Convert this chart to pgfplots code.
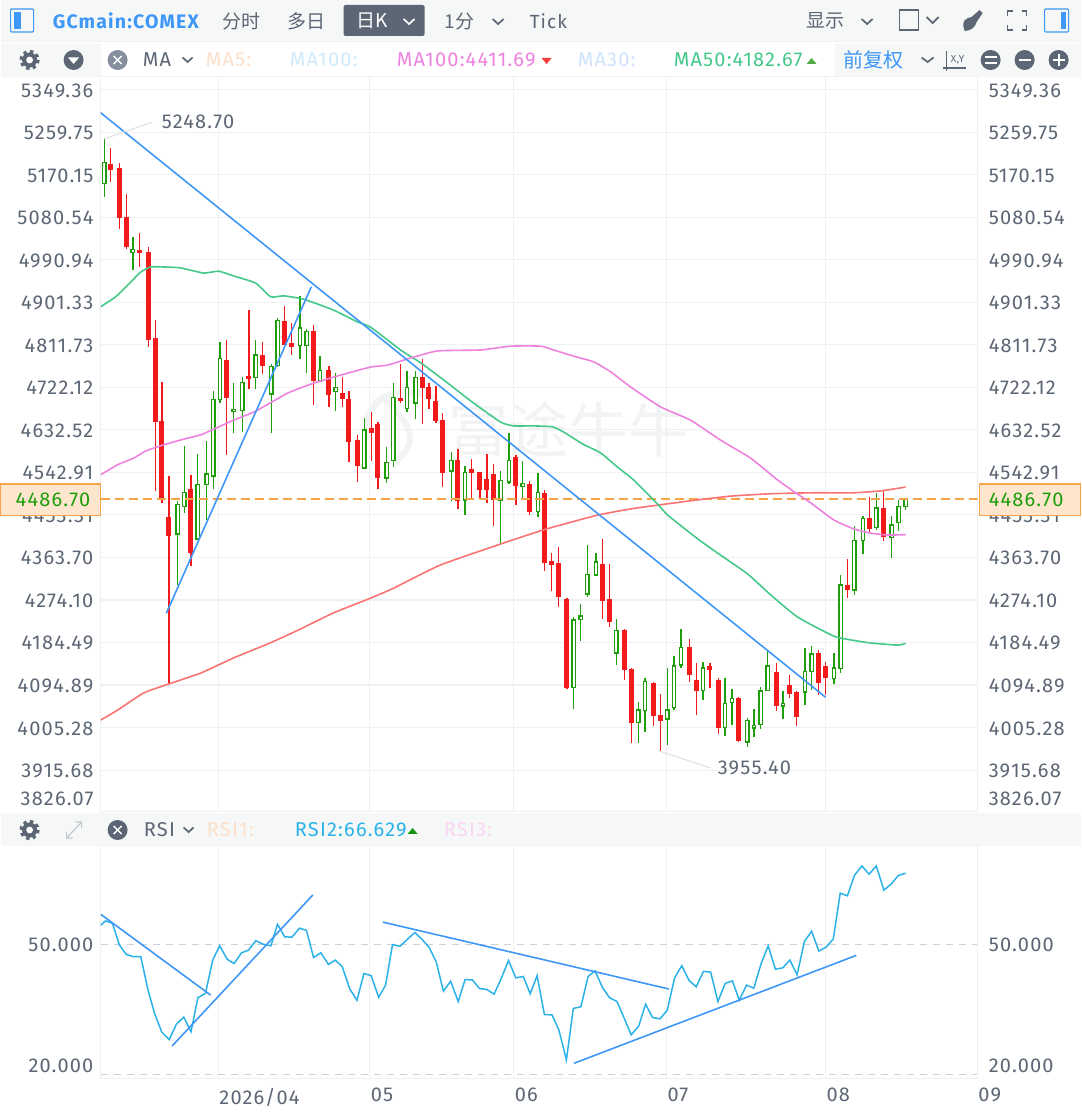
\documentclass[border=0pt]{standalone}
\usepackage{fontspec}
\usepackage{pgfplots}
\pgfplotsset{compat=1.18}
\setmainfont[LetterSpace=6]{Fira Sans}
\newfontfamily\cjk{Noto Sans CJK SC}
\definecolor{cgreen}{HTML}{1F9E0C}
\definecolor{cred}{HTML}{F21A1A}
\definecolor{gridc}{HTML}{EEF0F2}
\definecolor{txt}{HTML}{5C6675}
\definecolor{barbg}{HTML}{F6F8F8}
\definecolor{tl}{HTML}{3F97F7}
\definecolor{maG}{HTML}{45C98A}
\definecolor{maP}{HTML}{EE82DF}
\definecolor{maR}{HTML}{FB7373}
\definecolor{rsi}{HTML}{2BB2E8}
\definecolor{dashg}{HTML}{CDD1DA}
\definecolor{wm}{HTML}{F2F3F4}
\definecolor{lo}{HTML}{FDDFC9}
\definecolor{lb}{HTML}{CFEAFC}
\definecolor{lc}{HTML}{CFE2FD}
\definecolor{lp}{HTML}{F8D5F2}
\definecolor{boxc}{HTML}{F5A447}
\definecolor{boxf}{HTML}{FDE6CD}
\definecolor{xc}{HTML}{858F9D}
\definecolor{lead}{HTML}{DDE0E3}
\definecolor{dn}{HTML}{F53C3C}
\definecolor{upm}{HTML}{50AA46}
\definecolor{upr}{HTML}{149614}
\definecolor{exi}{HTML}{C3C8D0}
% one candle: x, low, body bottom, body top, high
\newcommand{\U}[5]{%
  \pgfmathsetmacro\xa{#1-1.7}\pgfmathsetmacro\xb{#1+1.7}%
  \addplot[draw=cgreen,line width=1.3pt] coordinates {(#1,#2)(#1,#5)};
  \addplot[draw=cgreen,fill=white,line width=1.4pt] coordinates {(\xa,#3)(\xb,#3)(\xb,#4)(\xa,#4)} -- cycle;
}
\newcommand{\D}[5]{%
  \pgfmathsetmacro\xa{#1-1.95}\pgfmathsetmacro\xb{#1+1.95}%
  \addplot[draw=cred,line width=1.2pt] coordinates {(#1,#2)(#1,#5)};
  \addplot[draw=cred,fill=cred,line width=1.1pt] coordinates {(\xa,#3)(\xb,#3)(\xb,#4)(\xa,#4)} -- cycle;
}
\newcommand{\T}[6]{\node[anchor=#1,text=#2,inner sep=0pt,font=\fontsize{#3}{#3}\selectfont] at (#4,#5) {#6};}
\newcommand{\Gear}[2]{%
  \draw[txt,line width=3.2pt,dash pattern=on 3.3pt off 3.38pt] (#1,#2) circle (8.5);
  \fill[txt] (#1,#2) circle (7.6);
  \fill[white] (#1,#2) circle (3.4);
}
\pgfplotsset{
  price/.style={scale only axis,width=877pt,height=735pt,at={(100pt,305pt)},anchor=south west,
    xmin=100,xmax=977,ymin=3827.28,ymax=5376.29,
    xtick={217.6,369,513,665.7,824.8},xticklabels={},
    ytick={5349.36,5259.75,5170.15,5080.54,4990.94,4901.33,4811.73,4722.12,4632.52,4542.91,4453.31,4363.70,4274.10,4184.49,4094.89,4005.28,3915.68},
    yticklabels={5349.36,5259.75,5170.15,5080.54,4990.94,4901.33,4811.73,4722.12,4632.52,4542.91,4453.31,4363.70,4274.10,4184.49,4094.89,4005.28,3915.68},
    tick style={draw=none},
    tick label style={font=\fontsize{20}{20}\selectfont,text=txt,inner sep=0pt},
    grid=both,grid style={draw=gridc,line width=1.1pt},
    axis line style={draw=gridc,line width=1pt},
    clip=true},
  rsibox/.style={scale only axis,width=877pt,height=233pt,at={(100pt,38pt)},anchor=south west,
    xmin=100,xmax=977,ymin=18.96,ymax=72.93,
    ytick={20,50},yticklabels={,50.000},
    tick style={draw=none},
    tick label style={font=\fontsize{20}{20}\selectfont,text=txt,inner sep=0pt},
    axis line style={draw=gridc,line width=1pt}}
}
\begin{document}
\begin{tikzpicture}
\begin{scope}[x=1pt,y=-1pt,shift={(0pt,1117pt)}]
  \fill[white] (0,0) rectangle (1080,1117);
  \fill[barbg] (0,0) rectangle (1080,42);
  \draw[gridc,line width=1pt] (0,42) -- (1080,42);
  \fill[barbg] (0,43) rectangle (100,77);
  \fill[barbg] (834,43) rectangle (1080,77);
  \fill[barbg] (0,813) rectangle (1080,846);
  \node[text=wm,inner sep=0pt,anchor=center,font=\cjk\fontsize{60}{60}\selectfont] at (568,429) {富途牛牛};
  \draw[wm,line width=7pt] (437,398) .. controls (395,385) and (360,395) .. (368,440);
  \draw[wm,line width=6pt] (385,400) .. controls (410,425) and (420,440) .. (395,462);
\end{scope}

\begin{axis}[price,yticklabel style={xshift=-7pt,yshift=-0.8pt}]
  \U{103.7}{5124}{5152}{5196}{5248.7}
  \D{110.3}{5156}{5182}{5191}{5226}
  \D{119}{5056}{5081}{5184}{5194}
  \D{125.7}{5013}{5020}{5080}{5129}
  \U{132.3}{4970}{5007}{5013}{5040}
  \D{139.3}{4976}{5006}{5011}{5047}
  \D{147.7}{4808}{4824}{5007}{5019}
  \D{154.7}{4504}{4651}{4825}{4864}
  \D{161.3}{4479}{4488}{4650}{4734}
  \D{168.3}{4098.6}{4411}{4448}{4535}
  \U{177}{4306}{4413}{4475}{4483}
  \U{183.7}{4457}{4471}{4500}{4599}
  \D{190.3}{4346}{4375}{4506}{4538}
  \U{197}{4401}{4403}{4518}{4581}
  \U{206}{4443}{4518}{4540}{4610}
  \U{212.7}{4507}{4535}{4697}{4715}
  \U{219.3}{4690}{4697}{4783}{4817}
  \D{226}{4580}{4701}{4778}{4822}
  \U{233}{4626}{4671}{4676}{4732}
  \U{241.7}{4629}{4674}{4733}{4743}
  \D{248.3}{4718}{4741}{4746}{4886}
  \U{255}{4718}{4743}{4790}{4822}
  \D{261.7}{4750}{4769}{4789}{4818}
  \U{270.7}{4625}{4708}{4766}{4771}
  \U{277}{4766}{4768}{4863}{4868}
  \D{283.7}{4812}{4813}{4861}{4894}
  \D{290.7}{4790}{4809}{4815}{4857}
  \U{299.3}{4783}{4810}{4847}{4915}
  \U{306}{4752}{4810}{4840}{4846}
  \D{312.7}{4684}{4736}{4840}{4854}
  \U{319.3}{4734}{4736}{4758}{4789}
  \D{328.3}{4680}{4708}{4757}{4768}
  \U{335}{4672}{4713}{4722}{4753}
  \D{341.7}{4680}{4698}{4710}{4743}
  \D{348.3}{4565}{4608}{4696}{4715}
  \D{357}{4522}{4557}{4610}{4621}
  \U{363.7}{4550}{4552}{4632}{4657}
  \D{370.7}{4568}{4627}{4635}{4671}
  \D{377.3}{4507}{4533}{4643}{4650}
  \U{386}{4521}{4531}{4564}{4596}
  \U{392.7}{4554}{4568}{4701}{4732}
  \D{399.7}{4690}{4694}{4699}{4771}
  \U{406.3}{4670}{4678}{4722}{4757}
  \U{415}{4655}{4689}{4743}{4757}
  \D{421.7}{4644}{4722}{4743}{4782}
  \D{428.3}{4676}{4698}{4721}{4732}
  \D{435.3}{4648}{4653}{4692}{4725}
  \D{442}{4512}{4543}{4653}{4668}
  \U{450.7}{4483}{4546}{4568}{4585}
  \D{457.3}{4465}{4483}{4567}{4592}
  \U{464.3}{4454}{4485}{4543}{4556}
  \D{471}{4486}{4543}{4550}{4571}
  \D{479.3}{4485}{4507}{4543}{4544}
  \D{486.3}{4479}{4507}{4528}{4581}
  \D{493}{4429}{4487}{4539}{4560}
  \U{500}{4394}{4485}{4526}{4546}
  \U{508.3}{4519}{4523}{4568}{4625}
  \D{515.3}{4475}{4515}{4575}{4580}
  \U{522}{4489}{4513}{4519}{4567}
  \D{528.7}{4454}{4460}{4517}{4525}
  \U{537.3}{4450}{4460}{4500}{4542}
  \D{544}{4335}{4354}{4499}{4506}
  \D{551}{4292}{4350}{4356}{4374}
  \D{557.7}{4260}{4281}{4351}{4385}
  \D{566.3}{4087}{4090}{4274}{4278}
  \U{573}{4045}{4090}{4232}{4238}
  \U{580}{4188}{4233}{4240}{4266}
  \U{586.7}{4281}{4287}{4328}{4389}
  \U{595.3}{4325}{4327}{4354}{4374}
  \D{602}{4235}{4274}{4349}{4403}
  \D{608.7}{4217}{4228}{4274}{4349}
  \U{615.7}{4138}{4162}{4210}{4233}
  \D{624}{4105}{4127}{4209}{4213}
  \D{630.7}{3973}{4017}{4127}{4130}
  \U{637.7}{3973}{4016}{4042}{4059}
  \U{644.3}{3995}{4041}{4102}{4109}
  \D{653}{4009}{4030}{4099}{4102}
  \D{660}{3955.4}{4020}{4030}{4076}
  \U{666.7}{3968}{4023}{4042}{4130}
  \U{673.3}{4042}{4048}{4135}{4155}
  \U{680.3}{4131}{4137}{4174}{4212}
  \D{688.7}{4102}{4117}{4173}{4191}
  \D{695.7}{4031}{4084}{4105}{4142}
  \U{702.3}{4063}{4083}{4131}{4144}
  \D{709.3}{4088}{4128}{4134}{4141}
  \D{717.7}{3992}{4006}{4105}{4109}
  \U{724.3}{3988}{4005}{4056}{4109}
  \U{731.3}{4011}{4058}{4066}{4087}
  \D{738}{3975}{3978}{4066}{4069}
  \U{746.7}{3964}{3975}{4020}{4026}
  \U{753.3}{3985}{4004}{4010}{4044}
  \U{760}{4002}{4012}{4082}{4090}
  \U{767}{4083}{4083}{4135}{4169}
  \D{775.7}{4041}{4052}{4122}{4141}
  \U{782.3}{4024}{4051}{4056}{4083}
  \D{789}{4067}{4077}{4094}{4116}
  \D{796}{4009}{4028}{4080}{4083}
  \U{804.3}{4053}{4080}{4124}{4172}
  \U{811}{4084}{4123}{4160}{4177}
  \D{818}{4074}{4100}{4162}{4169}
  \D{824.7}{4074}{4110}{4134}{4144}
  \U{833.3}{4096}{4108}{4131}{4162}
  \U{840}{4121}{4130}{4306}{4327}
  \D{847}{4278}{4296}{4305}{4360}
  \U{853.7}{4285}{4295}{4400}{4431}
  \U{862.3}{4371}{4399}{4446}{4452}
  \D{869}{4415}{4424}{4445}{4492}
  \U{875.7}{4422}{4427}{4468}{4500}
  \D{882.7}{4399}{4407}{4466}{4504}
  \U{891}{4363}{4406}{4432}{4452}
  \U{898}{4420}{4438}{4471}{4485}
  \U{905}{4464}{4471}{4486.7}{4488}
  % current price
  \addplot[draw=boxc,line width=1.5pt,dash pattern=on 9pt off 5pt] coordinates {(100,4486.7)(977,4486.7)};
  % MA red
  \addplot[draw=maR,line width=1.6pt,smooth,tension=0.3] coordinates {(100,4021)(117,4042)(143,4078)(168,4097)(200,4120)(233,4152)(270,4184)(300,4213)(333,4247)(370,4278)(393,4299)(440,4348)(500,4392)(543,4422)(560,4432)(597,4453)(630,4466)(657,4474)(697,4485)(730,4493)(770,4498)(813,4500)(853,4500)(880,4504)(905,4512)};
  % MA50
  \addplot[draw=maG,line width=1.6pt,smooth,tension=0.3] coordinates {(100,4892)(115,4913)(130,4944)(140,4965)(150,4976)(162,4976)(180,4974)(203,4963)(218,4967)(233,4957)(255,4942)(270,4913)(283,4915)(303,4908)(333,4885)(357,4860)(370,4849)(400,4801)(420,4774)(443,4738)(473,4689)(500,4649)(513,4641)(533,4641)(552,4639)(563,4628)(582,4603)(600,4584)(617,4554)(633,4527)(658,4474)(667,4453)(697,4403)(717,4373)(747,4329)(770,4285)(797,4238)(833,4198)(850,4190)(870,4183.5)(897,4179)(905,4182.67)};
  % MA100
  \addplot[draw=maP,line width=1.6pt,smooth,tension=0.3] coordinates {(100,4538)(117,4559)(133,4573)(145,4588)(163,4601)(183,4613)(200,4622)(213,4634)(233,4653)(255,4672)(287,4710)(313,4731)(340,4748)(370,4765)(387,4769)(410,4784)(437,4799)(480,4801)(510,4809)(540,4809)(553,4801)(573,4788)(593,4776)(610,4755)(630,4723)(660,4681)(690,4653)(720,4611)(750,4573)(777,4527)(795,4500)(810,4479)(833,4443)(853,4424)(870,4415)(887,4411)(905,4411.69)};
  % trend lines
  \addplot[draw=tl,line width=1.6pt] coordinates {(100,5301)(825,4069)};
  \addplot[draw=tl,line width=1.6pt] coordinates {(165.7,4246)(310.7,4934)};
\end{axis}
\begin{axis}[price,yticklabel pos=right,grid=none,axis line style={draw=none},yticklabel style={xshift=11pt,yshift=-0.8pt}]
\end{axis}

\begin{axis}[rsibox,
    xtick={217.6,369,513,665.7,824.8,976.6},
    xticklabels={2026/04,05,06,07,08,09},
    xticklabel style={anchor=north west,yshift=-9pt,xshift=1pt},
    xmajorgrids,x grid style={draw=gridc,line width=1pt},
    ymajorgrids,y grid style={draw=dashg,line width=1pt,dash pattern=on 7pt off 6pt},
    yticklabel style={xshift=-7pt}]
  \addplot[draw=rsi,line width=1.5pt] coordinates {(100.2,54.6)(105,55.6)(111.9,55)(118.8,50)(125.7,47.8)(132.6,47.3)(140.2,47.3)(147.4,39.6)(153.9,34.2)(161.2,29.8)(168.7,28.1)(175.6,31.6)(183.2,33.3)(190.4,29.9)(197.3,37.8)(204.9,38.8)(212.1,46.5)(219,49.8)(226.6,46.7)(233.5,45.7)(241,48.2)(247.9,48.8)(255.2,51)(262.4,50.2)(270.3,49.8)(276.9,54.8)(284.1,51.9)(291.3,51.8)(298.9,53.9)(305.8,53.4)(313,47.1)(320.2,48.2)(327.8,45.5)(334.7,46.5)(341.6,45)(349.2,39.8)(356.4,37.2)(363.3,43.4)(370.5,42.9)(378.1,37.9)(385,40.7)(391.9,50.1)(399.4,49.7)(406.7,51.3)(414.3,52.9)(421.8,51.2)(428.7,49.4)(435.6,46.1)(442.8,39.3)(450.1,41.6)(457.6,36.9)(464.5,42)(471.8,41.9)(479,39.9)(486.2,39.7)(493.5,38.6)(500.7,42.3)(507.9,46.4)(515.2,42.4)(522.7,42.7)(529.6,38.7)(536.5,42.9)(543.8,33.9)(551.4,33.8)(558.3,30.3)(565.8,23.4)(572.7,35.3)(580.3,35.7)(587.5,42.7)(594.4,44)(602,40.1)(608.9,37.8)(616.4,36.9)(623.3,33.2)(630.6,29.2)(638.1,31.2)(645,36.3)(651.9,33.2)(659.5,32.9)(666.7,34.9)(674,42.4)(681.2,45.2)(688.4,41.8)(695.6,40.3)(702.9,43.9)(710.1,43.7)(717.3,36.9)(724.6,41.1)(731.8,41.7)(738.7,37.2)(745.9,40.7)(753.2,40)(760.4,45.6)(767.6,49.8)(774.8,44.4)(782.1,44.7)(789.3,46.5)(796.5,43.1)(803.8,50.8)(811,53.2)(818.2,48.6)(825.5,49.5)(832.7,51.4)(839.6,62)(846.8,61.4)(854,66.2)(861.3,68.3)(868.5,66.4)(875.7,68.3)(883.3,62.7)(890.5,64.1)(897.8,66.1)(905,66.629)};
  \addplot[draw=tl,line width=1.6pt] coordinates {(100.2,57.1)(210,38.4)};
  \addplot[draw=tl,line width=1.6pt] coordinates {(171.5,26.6)(312.3,61.6)};
  \addplot[draw=tl,line width=1.6pt] coordinates {(382.2,55.3)(668.4,39.8)};
  \addplot[draw=tl,line width=1.6pt] coordinates {(573.4,22.6)(855.8,47.6)};
\end{axis}
\begin{axis}[rsibox,xtick=\empty,yticklabel pos=right,axis line style={draw=none},yticklabel style={xshift=11pt}]
\end{axis}

\begin{scope}[x=1pt,y=-1pt,shift={(0pt,1117pt)}]
  % header
  \draw[tl,line width=1.2pt,rounded corners=1pt] (10,9) rectangle (33,32);
  \fill[tl] (13,12) rectangle (20,29);
  \T{west}{tl}{19.5}{52}{21}{\bfseries GCmain:COMEX}
  \T{west}{txt}{19}{222}{21}{\cjk 分时}
  \T{west}{txt}{19}{287}{21}{\cjk 多日}
  \fill[txt,rounded corners=2pt] (343,5) rectangle (424,36);
  \T{west}{white}{19}{356}{21}{\cjk 日K}
  \draw[white,line width=1.7pt] (403,19) -- (408.5,24) -- (414,19);
  \T{west}{txt}{19}{444}{21}{\cjk 1分}
  \draw[txt,line width=1.7pt] (492,19) -- (497.5,24) -- (503,19);
  \T{west}{txt}{19}{529}{21}{Tick}
  \T{west}{txt}{19}{806}{21}{\cjk 显示}
  \draw[txt,line width=1.7pt] (861,19) -- (866.5,24) -- (872,19);
  \draw[txt,line width=1.2pt] (899,10) rectangle (918,30);
  \draw[txt,line width=1.7pt] (926,17) -- (932,23) -- (938,17);
  \fill[txt] (964,31) .. controls (960,20) and (966,18) .. (971,17) -- (979,10) -- (982,13) -- (976,22) .. controls (975,27) and (970,31) .. (964,31) -- cycle;
  \draw[txt,line width=1.4pt] (1007,16) -- (1007,11) -- (1012,11) (1021,11) -- (1026,11) -- (1026,16) (1007,25) -- (1007,30) -- (1012,30) (1021,30) -- (1026,30) -- (1026,25);
  \draw[tl,line width=1.2pt,rounded corners=1pt] (1044,9) rectangle (1068,32);
  \fill[tl] (1060,12) rectangle (1065,29);
  % second row
  \Gear{29}{60}
  \fill[txt] (73,60) circle (10);
  \fill[white] (67.5,57.5) -- (78.5,57.5) -- (73,64) -- cycle;
  \fill[xc] (117,60) circle (10);
  \draw[white,line width=1.5pt] (113,56) -- (121,64) (113,64) -- (121,56);
  \T{west}{txt}{20}{142}{60}{MA}
  \draw[txt,line width=1.7pt] (182,57.5) -- (187,62) -- (192,57.5);
  \T{west}{lo}{20}{205}{60}{MA5:}
  \T{west}{lb}{20}{289}{60}{MA100:}
  \T{west}{maP}{20}{396}{60}{MA100:4411.69}
  \fill[dn] (541,58) -- (551,58) -- (546,64) -- cycle;
  \T{west}{lc}{20}{577}{60}{MA30:}
  \T{west}{maG}{20}{673}{60}{MA50:4182.67}
  \fill[upm] (806,64) -- (816,64) -- (811,58) -- cycle;
  \T{west}{tl}{20}{843}{60}{\cjk 前复权}
  \draw[txt,line width=1.7pt] (921,57.5) -- (927,62) -- (933,57.5);
  \draw[txt,line width=1.2pt] (946,51) -- (946,71) (942,68) -- (965,68);
  \T{west}{txt}{10}{950}{60}{X,Y}
  \fill[txt] (990,60) circle (10); \draw[white,line width=1.6pt] (984,57) -- (996,57) (984,63) -- (996,63);
  \fill[txt] (1024,60) circle (10); \draw[white,line width=2pt] (1018,60) -- (1030,60);
  \fill[txt] (1058,60) circle (10); \draw[white,line width=2pt] (1052,60) -- (1064,60) (1058,54) -- (1058,66);
  % RSI row
  \Gear{29}{830}
  \draw[exi,line width=1.2pt] (66,838) -- (81,822) (75,822) -- (81,822) -- (81,828) (66,832) -- (66,838) -- (72,838);
  \fill[txt] (117,830) circle (10);
  \draw[white,line width=1.5pt] (113,826) -- (121,834) (113,834) -- (121,826);
  \T{west}{txt}{20}{143}{830}{RSI}
  \draw[txt,line width=1.7pt] (183,827.5) -- (188,832) -- (193,827.5);
  \T{west}{lo}{20}{206}{830}{RSI1:}
  \T{west}{rsi}{20}{294}{830}{RSI2:66.629}
  \fill[upr] (407,834) -- (417,834) -- (412,828) -- cycle;
  \T{west}{lp}{20}{443}{830}{RSI3:}
  % clamped labels
  \T{east}{txt}{20}{93}{799}{3826.07}
  \T{west}{txt}{20}{988}{799}{3826.07}
  \T{east}{txt}{20}{93}{1066}{20.000}
  \T{west}{txt}{20}{988}{1066}{20.000}
  % price boxes
  \draw[boxc,fill=boxf,line width=1.2pt] (0,484) rectangle (99.5,515.5);
  \draw[boxc,fill=boxf,line width=1.2pt] (978.5,484) rectangle (1080,515.5);
  \T{east}{cgreen}{20}{90}{500}{4486.70}
  \T{west}{cgreen}{20}{988}{500}{4486.70}
  % extreme annotations
  \draw[lead,line width=1pt] (103.5,139) -- (152,122);
  \T{west}{txt}{20}{161}{122}{5248.70}
  \draw[lead,line width=1pt] (660,751.5) -- (710,768);
  \T{west}{txt}{20}{717}{768}{3955.40}
\end{scope}
\end{tikzpicture}
\end{document}
